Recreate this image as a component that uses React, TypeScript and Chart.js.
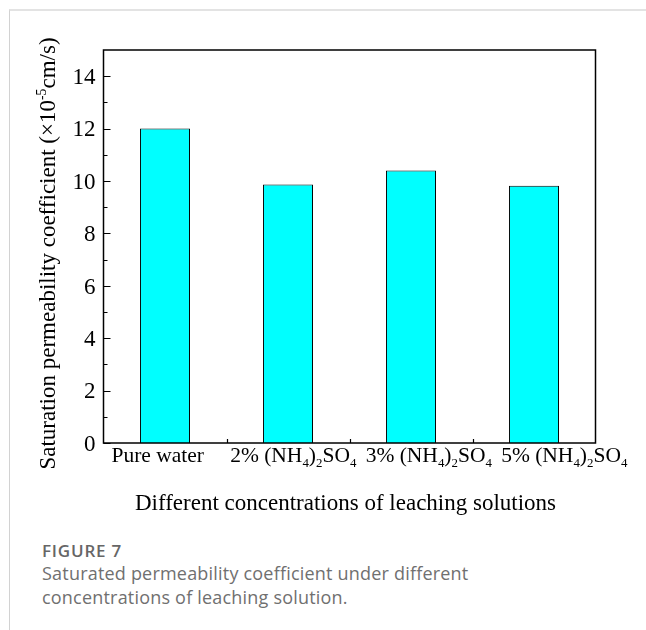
import React, { useEffect, useRef } from "react";
import { Chart, registerables } from "chart.js";

Chart.register(...registerables);

// Categories use Unicode sub/superscripts; the canvas renderer below typesets them.
const categories = ["Pure water", "2% (NH₄)₂SO₄", "3% (NH₄)₂SO₄", "5% (NH₄)₂SO₄"];
const permeability = [12.0, 9.87, 10.4, 9.82];
const yTickValues = [0, 2, 4, 6, 8, 10, 12, 14];
const yMin = 0;
const yMax = 15;
const xTitle = "Different concentrations of leaching solutions";
const yTitle = "Saturation permeability coefficient (×10⁻⁵cm/s)";
const figureLabel = "FIGURE 7";
const captionText =
  "Saturated permeability coefficient under different concentrations of leaching solution.";

const SERIF = '"Liberation Serif", "Times New Roman", serif';
const TICK_SIZE = 23;
const CAT_SIZE = 21.5;
const TITLE_SIZE = 23;

type Run = { text: string; kind: "n" | "sub" | "sup" };

const SUB_MAP: Record<string, string> = {
  "₀": "0", "₁": "1", "₂": "2", "₃": "3", "₄": "4",
  "₅": "5", "₆": "6", "₇": "7", "₈": "8", "₉": "9",
};
const SUP_MAP: Record<string, string> = {
  "⁰": "0", "¹": "1", "²": "2", "³": "3", "⁴": "4",
  "⁵": "5", "⁶": "6", "⁷": "7", "⁸": "8", "⁹": "9", "⁻": "-",
};

function toRuns(s: string): Run[] {
  const runs: Run[] = [];
  for (const ch of s) {
    let kind: Run["kind"] = "n";
    let c = ch;
    if (SUB_MAP[ch]) { kind = "sub"; c = SUB_MAP[ch]; }
    else if (SUP_MAP[ch]) { kind = "sup"; c = SUP_MAP[ch]; }
    const last = runs[runs.length - 1];
    if (last && last.kind === kind) last.text += c;
    else runs.push({ text: c, kind });
  }
  return runs;
}

function runFont(kind: Run["kind"], size: number) {
  const s = kind === "n" ? size : size * 0.6;
  return `${s}px ${SERIF}`;
}

function measureRich(ctx: CanvasRenderingContext2D, runs: Run[], size: number) {
  let w = 0;
  for (const r of runs) {
    ctx.font = runFont(r.kind, size);
    w += ctx.measureText(r.text).width;
  }
  return w;
}

function drawRich(ctx: CanvasRenderingContext2D, runs: Run[], x: number, y: number, size: number) {
  let cx = x;
  ctx.textAlign = "left";
  ctx.textBaseline = "alphabetic";
  for (const r of runs) {
    ctx.font = runFont(r.kind, size);
    const dy = r.kind === "sub" ? size * 0.24 : r.kind === "sup" ? -size * 0.4 : 0;
    ctx.fillText(r.text, cx, y + dy);
    cx += ctx.measureText(r.text).width;
  }
}

const axisDecor = {
  id: "axisDecor",
  afterDraw(chart: any) {
    const { ctx, chartArea } = chart;
    const { left, right, top, bottom } = chartArea;
    const xs = chart.scales.x;
    const ys = chart.scales.y;
    ctx.save();
    ctx.strokeStyle = "#000";
    ctx.fillStyle = "#000";

    // plot frame
    ctx.lineWidth = 1.5;
    ctx.strokeRect(left, top, right - left, bottom - top);

    // inward major / minor ticks and labels on the value axis
    ctx.lineWidth = 1.2;
    ctx.beginPath();
    yTickValues.forEach((v, i) => {
      const py = Math.round(ys.getPixelForValue(v)) + 0.5;
      ctx.moveTo(left, py);
      ctx.lineTo(left + 7, py);
      const next = yTickValues[i + 1];
      if (next !== undefined) {
        const my = Math.round(ys.getPixelForValue((v + next) / 2)) + 0.5;
        ctx.moveTo(left, my);
        ctx.lineTo(left + 4, my);
      }
    });
    // category separators on the bottom axis
    for (let i = 1; i < categories.length; i++) {
      const px = Math.round((xs.getPixelForValue(i - 1) + xs.getPixelForValue(i)) / 2) + 0.5;
      ctx.moveTo(px, bottom);
      ctx.lineTo(px, bottom - 4);
    }
    ctx.stroke();

    ctx.font = `${TICK_SIZE}px ${SERIF}`;
    ctx.textAlign = "right";
    ctx.textBaseline = "alphabetic";
    yTickValues.forEach((v) => {
      const py = ys.getPixelForValue(v);
      ctx.fillText(String(v), left - 8, py + TICK_SIZE * 0.34);
    });

    // category labels, spread across a slightly wider band than the plot
    const bandLeft = left - 13.5;
    const bandRight = right + 36.5;
    const slot = (bandRight - bandLeft) / categories.length;
    categories.forEach((c, i) => {
      const runs = toRuns(c);
      const w = measureRich(ctx, runs, CAT_SIZE);
      const cx = bandLeft + slot * (i + 0.5);
      drawRich(ctx, runs, cx - w / 2, bottom + 19, CAT_SIZE);
    });

    // x-axis title
    const xr = toRuns(xTitle);
    const xw = measureRich(ctx, xr, TITLE_SIZE);
    drawRich(ctx, xr, (left + right) / 2 - 4 - xw / 2, bottom + 67, TITLE_SIZE);

    // y-axis title (rotated)
    const yr = toRuns(yTitle);
    const yw = measureRich(ctx, yr, TITLE_SIZE);
    ctx.translate(55, (top + bottom) / 2 + 7);
    ctx.rotate(-Math.PI / 2);
    drawRich(ctx, yr, -yw / 2, 0, TITLE_SIZE);
    ctx.restore();
  },
};

export default function App() {
  const canvasRef = useRef<HTMLCanvasElement | null>(null);

  useEffect(() => {
    const canvas = canvasRef.current;
    if (!canvas) return;
    const chart = new Chart(canvas, {
      type: "bar",
      data: {
        labels: categories,
        datasets: [
          {
            data: permeability,
            backgroundColor: "#00ffff",
            borderColor: "#000000",
            borderWidth: 1,
            barPercentage: 0.407,
            categoryPercentage: 1,
          },
        ],
      },
      options: {
        responsive: false,
        animation: false,
        devicePixelRatio: 1,
        layout: { padding: { left: 0, top: 50, right: 50.5, bottom: 0 } },
        plugins: {
          legend: { display: false },
          tooltip: { enabled: false },
          title: { display: false },
        },
        scales: {
          x: {
            type: "category",
            grid: { display: false, drawTicks: false },
            border: { display: false },
            ticks: { display: false },
            afterFit: (s: any) => {
              s.height = 87;
            },
          },
          y: {
            min: yMin,
            max: yMax,
            grid: { display: false, drawTicks: false },
            border: { display: false },
            ticks: { display: false, stepSize: 2 },
            afterFit: (s: any) => {
              s.width = 103.5;
            },
          },
        },
      },
      plugins: [axisDecor],
    });
    return () => chart.destroy();
  }, []);

  return (
    <div
      style={{
        position: "fixed",
        left: 0,
        top: 0,
        width: 646,
        height: 630,
        overflow: "hidden",
        background: "#fff",
      }}
    >
      <div
        style={{
          position: "absolute",
          left: 9,
          top: 9,
          width: 637,
          height: 621,
          boxSizing: "border-box",
          borderTop: "2px solid #e3e3e3",
          borderLeft: "1px solid #d2d2d2",
        }}
      />
      <canvas
        ref={canvasRef}
        width={646}
        height={530}
        style={{ position: "absolute", left: 0, top: 0, width: 646, height: 530 }}
      />
      <div
        style={{
          position: "absolute",
          left: 42,
          top: 539,
          fontFamily: '"Open Sans", sans-serif',
          fontWeight: 600,
          fontSize: 17,
          letterSpacing: 0.8,
          lineHeight: "24px",
          color: "#666",
        }}
      >
        {figureLabel}
      </div>
      <div
        style={{
          position: "absolute",
          left: 42,
          top: 561,
          width: 470,
          fontFamily: '"Open Sans", sans-serif',
          fontSize: 18,
          letterSpacing: 0.2,
          lineHeight: "24px",
          color: "#707070",
        }}
      >
        {captionText}
      </div>
    </div>
  );
}
